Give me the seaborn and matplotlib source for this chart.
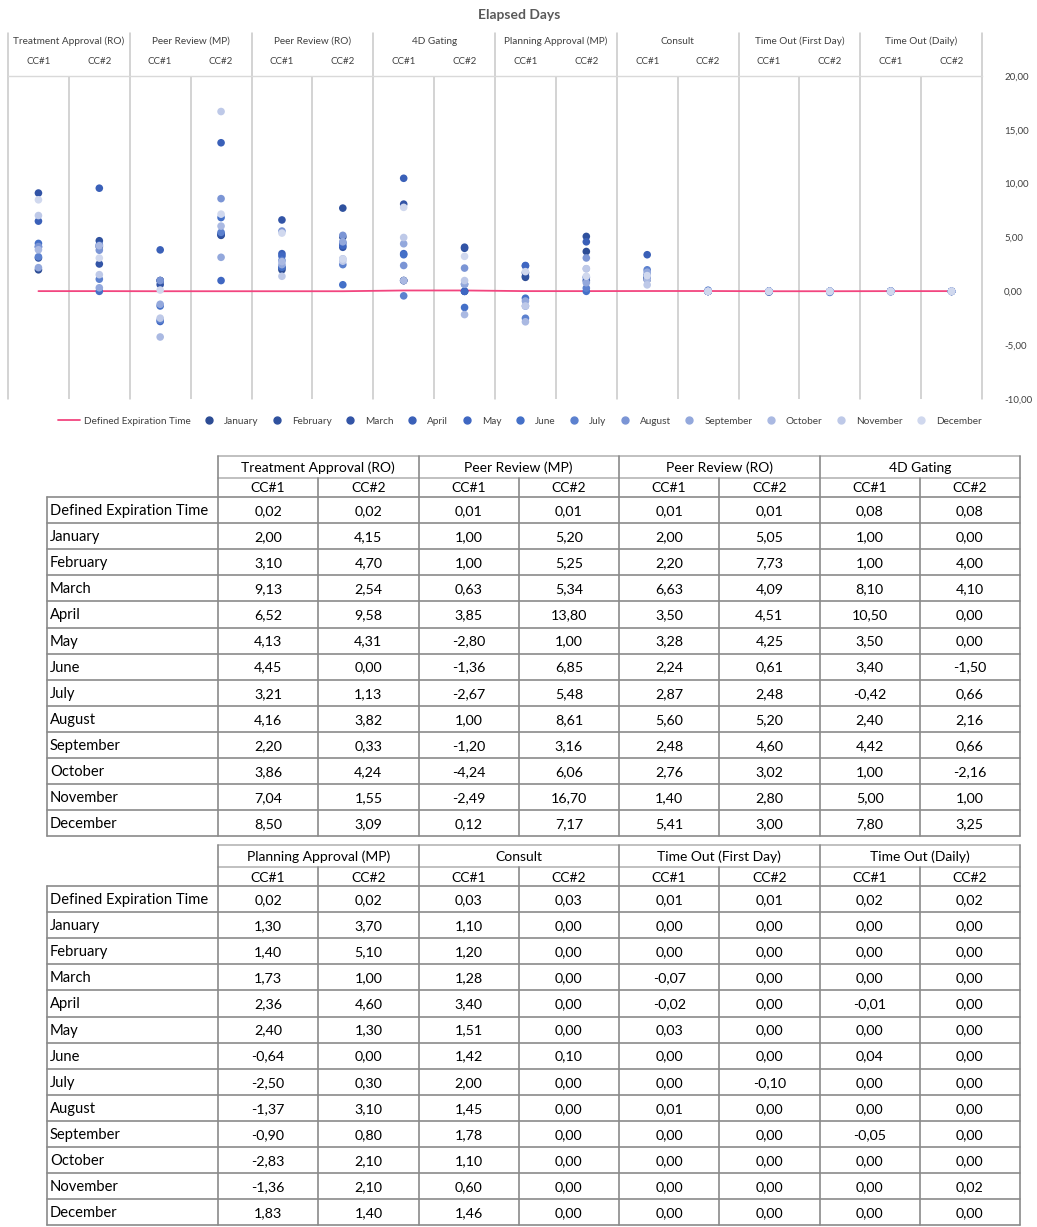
import numpy as np
import pandas as pd
import seaborn as sns
import matplotlib.pyplot as plt
from matplotlib.lines import Line2D
from matplotlib.ticker import FuncFormatter

groups = ["Treatment Approval (RO)", "Peer Review (MP)", "Peer Review (RO)", "4D Gating",
          "Planning Approval (MP)", "Consult", "Time Out (First Day)", "Time Out (Daily)"]
sites = ["CC#1", "CC#2"]
months = ["January", "February", "March", "April", "May", "June", "July",
          "August", "September", "October", "November", "December"]

expiration = [0.02, 0.02, 0.01, 0.01, 0.01, 0.01, 0.08, 0.08,
              0.02, 0.02, 0.03, 0.03, 0.01, 0.01, 0.02, 0.02]
january = [2.00, 4.15, 1.00, 5.20, 2.00, 5.05, 1.00, 0.00,
           1.30, 3.70, 1.10, 0.00, 0.00, 0.00, 0.00, 0.00]
february = [3.10, 4.70, 1.00, 5.25, 2.20, 7.73, 1.00, 4.00,
            1.40, 5.10, 1.20, 0.00, 0.00, 0.00, 0.00, 0.00]
march = [9.13, 2.54, 0.63, 5.34, 6.63, 4.09, 8.10, 4.10,
         1.73, 1.00, 1.28, 0.00, -0.07, 0.00, 0.00, 0.00]
april = [6.52, 9.58, 3.85, 13.80, 3.50, 4.51, 10.50, 0.00,
         2.36, 4.60, 3.40, 0.00, -0.02, 0.00, -0.01, 0.00]
may = [4.13, 4.31, -2.80, 1.00, 3.28, 4.25, 3.50, 0.00,
       2.40, 1.30, 1.51, 0.00, 0.03, 0.00, 0.00, 0.00]
june = [4.45, 0.00, -1.36, 6.85, 2.24, 0.61, 3.40, -1.50,
        -0.64, 0.00, 1.42, 0.10, 0.00, 0.00, 0.04, 0.00]
july = [3.21, 1.13, -2.67, 5.48, 2.87, 2.48, -0.42, 0.66,
        -2.50, 0.30, 2.00, 0.00, 0.00, -0.10, 0.00, 0.00]
august = [4.16, 3.82, 1.00, 8.61, 5.60, 5.20, 2.40, 2.16,
          -1.37, 3.10, 1.45, 0.00, 0.01, 0.00, 0.00, 0.00]
september = [2.20, 0.33, -1.20, 3.16, 2.48, 4.60, 4.42, 0.66,
             -0.90, 0.80, 1.78, 0.00, 0.00, 0.00, -0.05, 0.00]
october = [3.86, 4.24, -4.24, 6.06, 2.76, 3.02, 1.00, -2.16,
           -2.83, 2.10, 1.10, 0.00, 0.00, 0.00, 0.00, 0.00]
november = [7.04, 1.55, -2.49, 16.70, 1.40, 2.80, 5.00, 1.00,
            -1.36, 2.10, 0.60, 0.00, 0.00, 0.00, 0.00, 0.02]
december = [8.50, 3.09, 0.12, 7.17, 5.41, 3.00, 7.80, 3.25,
            1.83, 1.40, 1.46, 0.00, 0.00, 0.00, 0.00, 0.00]
month_values = [january, february, march, april, may, june, july,
                august, september, october, november, december]

# ---- styles ----
month_colors = ["#2C4C94", "#2F519E", "#3254A6", "#3A60B8", "#3F67C2", "#4470C8",
                "#5C81CF", "#7B95D5", "#93A8DC", "#AAB9E2", "#BEC9E8", "#D0D8EE"]
line_color = "#F2457F"
grid_color = "#C8C8C8"
text_gray = "#404040"

sns.set_theme(style="white")
plt.rcParams["font.family"] = ["Lato", "DejaVu Sans"]

W, H = 1037, 1227
fig = plt.figure(figsize=(W / 100, H / 100), dpi=100)


def fbox(x0, y0, x1, y1):
    # pixel box (top-left origin) -> figure fraction rect
    return [x0 / W, 1 - y1 / H, (x1 - x0) / W, (y1 - y0) / H]


def fmt(v):
    return f"{v:.2f}".replace(".", ",")


# background axes in pixel units for the tables
tax = fig.add_axes([0, 0, 1, 1])
tax.set_xlim(0, W)
tax.set_ylim(H, 0)
tax.axis("off")
tax.patch.set_alpha(0)

# ---- chart ----
ax = fig.add_axes(fbox(8, 76, 982, 399))
positions = np.arange(len(groups) * len(sites))

long_df = pd.DataFrame({
    "pos": np.tile(positions, len(months)),
    "days": np.concatenate(month_values),
    "month": np.repeat(months, len(positions)),
})

sns.lineplot(x=positions, y=expiration, color=line_color, linewidth=1.3, ax=ax, zorder=2)
sns.scatterplot(data=long_df, x="pos", y="days", hue="month", hue_order=months,
                palette=month_colors, s=30, linewidth=0, legend=False, ax=ax, zorder=3)

ax.set_xlim(-0.5, len(positions) - 0.5)
ax.set_ylim(-10, 20)
ax.set_yticks(range(-10, 21, 5))
ax.yaxis.set_major_formatter(FuncFormatter(lambda v, _: fmt(v)))
ax.yaxis.tick_right()
ax.tick_params(axis="y", length=0, pad=16, labelsize=7, labelcolor=text_gray)
ax.set_xticks([])
ax.set_xlabel("")
ax.set_ylabel("")
for side in ["left", "right", "bottom"]:
    ax.spines[side].set_visible(False)
ax.spines["top"].set_color("#D9D9D9")
ax.spines["top"].set_linewidth(1)

# vertical separators and the two-level category header
trans = ax.get_xaxis_transform()
for g in range(len(groups) + 1):
    ax.plot([2 * g - 0.5] * 2, [0, 1.133], transform=trans, clip_on=False,
            color=grid_color, lw=1.1, zorder=1)
for g in range(len(groups)):
    ax.axvline(2 * g + 0.5, color=grid_color, lw=1.1, zorder=1)
    ax.text(2 * g + 0.5, 1.108, groups[g], transform=trans, ha="center", va="center",
            fontsize=7.2, color=text_gray)
for k in positions:
    ax.text(k, 1.046, sites[k % 2], transform=trans, ha="center", va="center",
            fontsize=7, color=text_gray)

fig.text(519 / W, 1 - 15 / H, "Elapsed Days", ha="center", va="center",
         fontsize=10, fontweight="bold", color="#595959")

handles = [Line2D([], [], color=line_color, lw=1.3)]
handles += [Line2D([], [], color=c, marker="o", ls="", markersize=5) for c in month_colors]
fig.legend(handles, ["Defined Expiration Time"] + months, loc="center",
           bbox_to_anchor=(520 / W, 1 - 421 / H), ncol=13, frameon=False,
           fontsize=7.2, handlelength=2.2, handletextpad=0.4, columnspacing=0.75,
           labelcolor=text_gray)

# ---- tables ----
row_names = ["Defined Expiration Time"] + months
body_line = "#8A8A8A"
head_line = "#B5B5B5"


def draw_table(top, first_group):
    x0, x1, x2 = 47, 218, 1020
    cw = (x2 - x1) / 8
    y1 = top + 22
    y2 = y1 + 19
    rh = 26.1
    yb = y2 + rh * len(row_names)
    cols = slice(first_group * 2, first_group * 2 + 8)
    rows = [expiration[cols]] + [m[cols] for m in month_values]

    tax.plot([x1, x2], [top, top], color=head_line, lw=1.2)
    tax.plot([x1, x2], [y1, y1], color=head_line, lw=1.2)
    for i in range(len(row_names) + 1):
        tax.plot([x0, x2], [y2 + rh * i] * 2, color=body_line, lw=1.2)
    tax.plot([x0, x0], [y2, yb], color=body_line, lw=1.2)
    for g in range(5):
        tax.plot([x1 + cw * 2 * g] * 2, [top, yb], color=body_line, lw=1.2)
    for g in range(4):
        tax.plot([x1 + cw * (2 * g + 1)] * 2, [y1, yb], color=body_line, lw=1.2)
        tax.text(x1 + cw * (2 * g + 1), (top + y1) / 2 + 1, groups[first_group + g],
                 ha="center", va="center", fontsize=10, color="black")
    for c in range(8):
        tax.text(x1 + cw * (c + 0.5), (y1 + y2) / 2 + 1, sites[c % 2],
                 ha="center", va="center", fontsize=10, color="black")
    for r, (name, vals) in enumerate(zip(row_names, rows)):
        yc = y2 + rh * (r + 0.5) + 1
        tax.text(x0 + 3, yc, name, ha="left", va="center", fontsize=10.6, color="black")
        for c, v in enumerate(vals):
            tax.text(x1 + cw * (c + 0.5), yc, fmt(v), ha="center", va="center",
                     fontsize=10.3, color="black")


draw_table(456, 0)
draw_table(845, 4)

fig.savefig("out.png", dpi=100)
